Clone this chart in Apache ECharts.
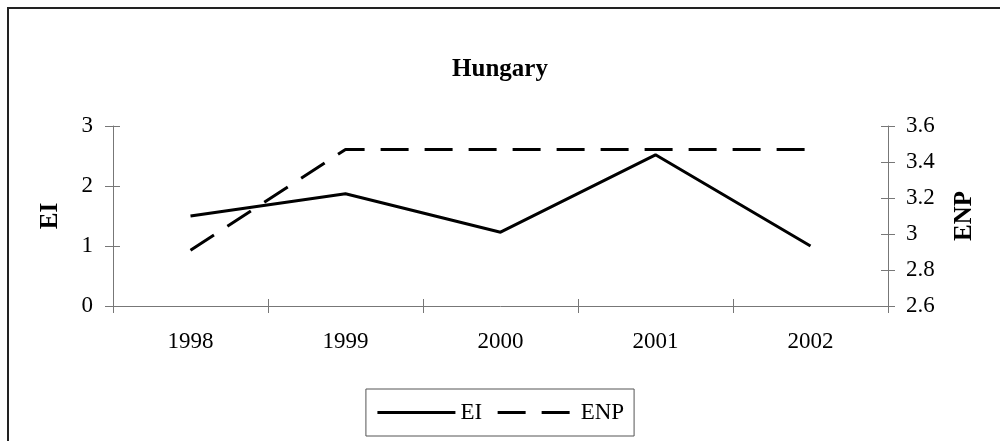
<!DOCTYPE html>
<html>
<head>
<meta charset="utf-8">
<script src="https://cdn.jsdelivr.net/npm/echarts@6/dist/echarts.min.js"></script>
<style>
  html, body { margin: 0; padding: 0; background: #fff; }
  #chart { width: 1000px; height: 441px; }
</style>
</head>
<body>
<div id="chart"></div>
<script>
const years = ['1998', '1999', '2000', '2001', '2002']
const eiValues = [1.5, 1.87, 1.23, 2.52, 1.0]
const enpValues = [2.91, 3.47, 3.47, 3.47, 3.47]

const font = 'Liberation Serif'
const axisGray = '#777'

const chart = echarts.init(document.getElementById('chart'))

const gridBox = { left: 113, right: 112, top: 126, bottom: 135 }
const eiRange = { type: 'value', min: 0, max: 3, interval: 1, position: 'left' }
const enpRange = { type: 'value', min: 2.6, max: 3.6, interval: 0.2, position: 'right' }
// a second, empty grid on top of the first one draws the inner half of every tick
const hiddenLine = { show: true, lineStyle: { color: axisGray, opacity: 0 } }
const innerTick = { show: true, inside: true, length: 7, lineStyle: { color: axisGray } }
const noLabel = { show: false }
const noSplit = { show: false }

const options = {
  animation: false,
  title: {
    text: 'Hungary',
    left: 'center',
    top: 52,
    textStyle: { fontFamily: font, fontSize: 25, fontWeight: 'bold', color: '#000' }
  },
  graphic: [{
    type: 'rect',
    shape: { x: 8, y: 8, width: 1100, height: 600 },
    style: { fill: 'none', stroke: '#222', lineWidth: 2 },
    silent: true
  }],
  legend: {
    data: ['EI', 'ENP'],
    left: 'center',
    top: 389,
    itemWidth: 78,
    itemHeight: 14,
    itemGap: 14,
    padding: [12, 10],
    borderColor: '#555',
    borderWidth: 1,
    itemStyle: { opacity: 0 },
    lineStyle: { width: 3 },
    textStyle: { fontFamily: font, fontSize: 23, color: '#000' }
  },
  grid: [gridBox, gridBox],
  xAxis: [{
    type: 'category',
    gridIndex: 0,
    data: years,
    boundaryGap: true,
    axisLine: { lineStyle: { color: axisGray, width: 1 } },
    axisTick: { show: false },
    axisLabel: { fontFamily: font, fontSize: 23, color: '#000', margin: 24 }
  }, {
    type: 'category',
    gridIndex: 1,
    data: years,
    boundaryGap: true,
    offset: -7,
    axisLine: hiddenLine,
    axisTick: { show: true, length: 14, lineStyle: { color: axisGray } },
    axisLabel: noLabel
  }],
  yAxis: [Object.assign({}, eiRange, {
    gridIndex: 0,
    name: 'EI',
    nameLocation: 'middle',
    nameGap: 50,
    nameTextStyle: { fontFamily: font, fontSize: 25, fontWeight: 'bold', color: '#000' },
    axisLine: { show: true, lineStyle: { color: axisGray, width: 1 } },
    axisTick: { show: true, length: 8, lineStyle: { color: axisGray } },
    splitLine: noSplit,
    axisLabel: { fontFamily: font, fontSize: 23, color: '#000', margin: 20 }
  }), Object.assign({}, enpRange, {
    gridIndex: 0,
    name: 'ENP',
    nameLocation: 'middle',
    nameGap: 64,
    nameTextStyle: { fontFamily: font, fontSize: 25, fontWeight: 'bold', color: '#000' },
    axisLine: { show: true, lineStyle: { color: axisGray, width: 1 } },
    axisTick: { show: true, length: 7, lineStyle: { color: axisGray } },
    splitLine: noSplit,
    axisLabel: { fontFamily: font, fontSize: 23, color: '#000', margin: 18 }
  }), Object.assign({}, eiRange, {
    gridIndex: 1,
    axisLine: hiddenLine,
    axisTick: innerTick,
    splitLine: noSplit,
    axisLabel: noLabel
  }), Object.assign({}, enpRange, {
    gridIndex: 1,
    axisLine: hiddenLine,
    axisTick: innerTick,
    splitLine: noSplit,
    axisLabel: noLabel
  })],
  series: [{
    name: 'EI',
    type: 'line',
    data: eiValues,
    xAxisIndex: 0,
    yAxisIndex: 0,
    symbol: 'none',
    lineStyle: { color: '#000', width: 3 },
    itemStyle: { color: '#000' }
  }, {
    name: 'ENP',
    type: 'line',
    data: enpValues,
    xAxisIndex: 0,
    yAxisIndex: 1,
    symbol: 'none',
    lineStyle: { color: '#000', width: 3, type: [28, 16] },
    itemStyle: { color: '#000' }
  }]
}

chart.setOption(options, true)
</script>
</body>
</html>
